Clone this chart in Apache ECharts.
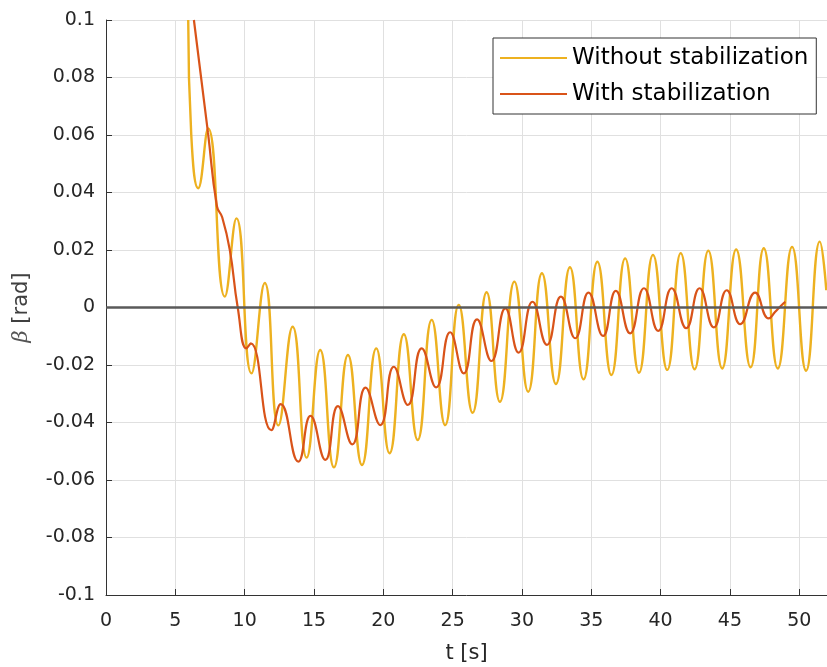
<!DOCTYPE html>
<html>
<head>
<meta charset="utf-8">
<title>Sideslip angle</title>
<script src="https://cdn.jsdelivr.net/npm/echarts@6/dist/echarts.min.js"></script>
<style>
  html, body { margin: 0; padding: 0; background: #fff; }
  #chart { width: 827px; height: 667px; }
</style>
</head>
<body>
<div id="chart"></div>
<script>
// Sideslip angle beta over time, sampled at the turning points of each response
const seriesNames = ['Without stabilization', 'With stabilization'];

const tWithout = [
  5.93, 6.15, 6.65, 7.37, 8.57, 9.41, 10.49, 11.45, 12.43, 13.46,
  14.47, 15.45, 16.44, 17.45, 18.46, 19.49, 20.45, 21.48, 22.48, 23.49,
  24.46, 25.44, 26.44, 27.45, 28.41, 29.45, 30.45, 31.44, 32.45, 33.46,
  34.44, 35.44, 36.45, 37.44, 38.44, 39.45, 40.48, 41.45, 42.45, 43.44,
  44.44, 45.45, 46.49, 47.44, 48.45, 49.48, 50.49, 51.48, 51.95
];
const betaWithout = [
  0.1, 0.06, 0.0415, 0.0623, 0.0038, 0.031, -0.0229, 0.0085, -0.041, -0.0067,
  -0.0522, -0.0148, -0.0556, -0.0165, -0.0548, -0.0142, -0.0507, -0.0093, -0.0461, -0.0043,
  -0.0409, 0.0009, -0.0366, 0.0053, -0.0328, 0.009, -0.0293, 0.0119, -0.0266, 0.014,
  -0.025, 0.0159, -0.0235, 0.0171, -0.0227, 0.0183, -0.0217, 0.0189, -0.0215, 0.0198,
  -0.0212, 0.0202, -0.0208, 0.0206, -0.0212, 0.0211, -0.022, 0.0229, 0.006
];

const tWith = [
  6.34, 7.35, 8.0, 8.38, 8.93, 9.5, 10.13, 10.44, 11.93, 12.6,
  13.87, 14.75, 15.82, 16.73, 17.76, 18.72, 19.78, 20.76, 21.77, 22.77,
  23.81, 24.82, 25.8, 26.76, 27.8, 28.8, 29.76, 30.76, 31.8, 32.81,
  33.84, 34.8, 35.85, 36.77, 37.8, 38.8, 39.83, 40.8, 41.85, 42.81,
  43.84, 44.77, 45.75, 46.82, 47.8, 48.25, 48.85, 49.0
];
const betaWith = [
  0.1, 0.061, 0.0352, 0.0314, 0.02, 0.0, -0.0142, -0.0125, -0.0427, -0.0336,
  -0.0536, -0.0377, -0.053, -0.0343, -0.0476, -0.0279, -0.0409, -0.0206, -0.0339, -0.0142,
  -0.0278, -0.0086, -0.0229, -0.0041, -0.0186, -0.0003, -0.0157, 0.002, -0.013, 0.0038,
  -0.0107, 0.0052, -0.0099, 0.0058, -0.009, 0.0067, -0.0081, 0.0067, -0.0072, 0.0067,
  -0.0069, 0.006, -0.0058, 0.0052, -0.0038, -0.0016, 0.0014, 0.0019
];

// Axis ranges and tick spacing
const xRange = [0, 52];
const xStep = 5;
const yRange = [-0.1, 0.1];
const yStep = 0.02;

const pairs = (ts, vs) => ts.map((t, i) => [t, vs[i]]);

const chart = echarts.init(document.getElementById('chart'), null, { renderer: 'canvas' });

const tickColor = '#262626';
const gridColor = '#e0e0e0';
const font = 'DejaVu Sans';

chart.setOption({
  animation: false,
  backgroundColor: '#ffffff',
  grid: { left: 106, right: 0, top: 20, bottom: 72, containLabel: false, outerBoundsMode: 'none' },
  legend: {
    left: 493,
    top: 38,
    orient: 'vertical',
    padding: [6, 8, 6, 7],
    itemGap: 8,
    itemWidth: 67,
    itemHeight: 2,
    icon: 'rect',
    borderColor: '#333333',
    borderWidth: 1,
    backgroundColor: '#ffffff',
    textStyle: { fontFamily: font, fontSize: 23, lineHeight: 28, color: '#000000' },
    data: seriesNames
  },
  xAxis: {
    type: 'value',
    min: xRange[0],
    max: xRange[1],
    interval: xStep,
    name: 't [s]',
    nameLocation: 'middle',
    nameGap: 48,
    nameTextStyle: { fontFamily: font, fontSize: 21, color: tickColor },
    axisLine: { show: true, onZero: false, lineStyle: { color: '#333333', width: 1 } },
    axisTick: { show: true, inside: true, length: 6, lineStyle: { color: '#333333' } },
    axisLabel: {
      margin: 17,
      fontFamily: font,
      fontSize: 19,
      color: tickColor,
      showMaxLabel: false,
      formatter: v => (Math.abs(v % xStep) < 1e-9 ? String(v) : '')
    },
    splitLine: { show: true, lineStyle: { color: gridColor, width: 1 } }
  },
  yAxis: {
    type: 'value',
    min: yRange[0],
    max: yRange[1],
    interval: yStep,
    name: '{b|β} [rad]',
    nameLocation: 'middle',
    nameGap: 74,
    nameTextStyle: {
      fontFamily: font,
      fontSize: 21,
      color: '#404040',
      rich: {
        b: { fontFamily: 'DejaVu Serif', fontStyle: 'italic', fontSize: 21, color: '#555555' }
      }
    },
    axisLine: { show: true, onZero: false, lineStyle: { color: '#333333', width: 1 } },
    axisTick: { show: true, inside: true, length: 6, lineStyle: { color: '#333333' } },
    axisLabel: {
      margin: 11,
      fontFamily: font,
      fontSize: 19,
      color: tickColor,
      formatter: v => String(parseFloat(v.toFixed(2)))
    },
    splitLine: { show: true, lineStyle: { color: gridColor, width: 1 } }
  },
  series: [
    {
      name: seriesNames[0],
      type: 'line',
      data: pairs(tWithout, betaWithout),
      smooth: 0.5,
      symbol: 'none',
      clip: true,
      lineStyle: { color: '#EDB120', width: 2.4 },
      itemStyle: { color: '#EDB120' },
      z: 2,
      markLine: {
        silent: true,
        symbol: 'none',
        label: { show: false },
        lineStyle: { color: '#5a5a5a', width: 2.5, type: 'solid' },
        data: [{ yAxis: 0 }]
      }
    },
    {
      name: seriesNames[1],
      type: 'line',
      data: pairs(tWith, betaWith),
      smooth: 0.5,
      symbol: 'none',
      clip: true,
      lineStyle: { color: '#D95319', width: 2.2 },
      itemStyle: { color: '#D95319' },
      z: 3
    }
  ]
});
</script>
</body>
</html>
